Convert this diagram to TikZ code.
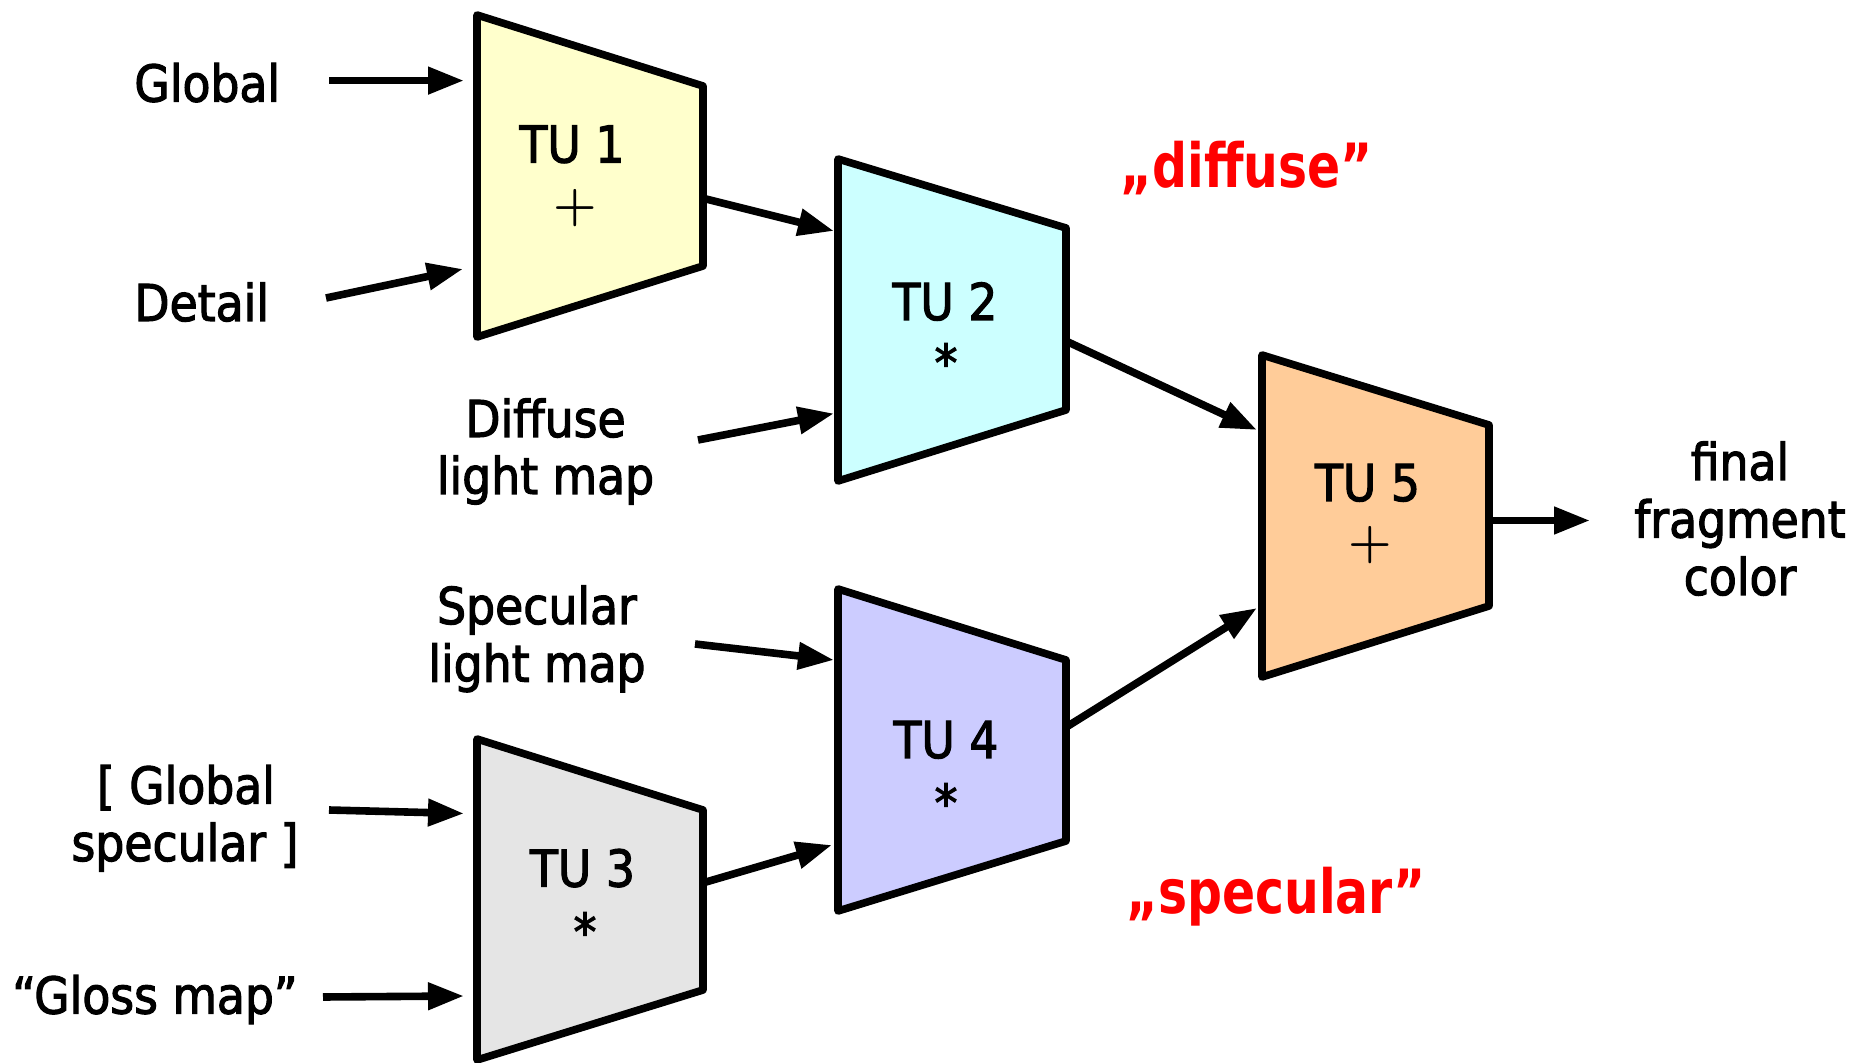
\documentclass[tikz,border=0pt]{standalone}
\usepackage{fontspec}
\setmainfont{DejaVu Sans Condensed}[FakeBold=2.2]
\newfontfamily\redfont{DejaVu Sans Condensed Bold}[FakeStretch=0.89]
\usetikzlibrary{arrows.meta}
\definecolor{tuA}{HTML}{FFFFCC}
\definecolor{tuB}{HTML}{CCFFFF}
\definecolor{tuC}{HTML}{E5E5E5}
\definecolor{tuD}{HTML}{CCCCFF}
\definecolor{tuE}{HTML}{FFCC99}
\definecolor{hlred}{HTML}{FF0000}
\begin{document}
\begin{tikzpicture}[x=0.5pt,y=-0.5pt,
  unit/.style={draw=black,line width=3.8pt,line join=round},
  conn/.style={line width=3.8pt,-{Triangle[length=18pt,width=13pt]}},
  txt/.style={font=\fontsize{25.4pt}{29pt}\selectfont,inner sep=0pt,anchor=base},
  txtw/.style={txt,anchor=base west},
  sym/.style={font=\fontsize{25.4pt}{29pt}\selectfont\boldmath,inner sep=0pt},
  quote/.style={font=\fontsize{30.5pt}{34pt}\selectfont\redfont,text=hlred,inner sep=0pt,anchor=base}]
\useasboundingbox (0,0) rectangle (1854,1063);

% texture units
\draw[unit,fill=tuA] (477,15) -- (703,86) -- (703,266) -- (477,337) -- cycle;
\draw[unit,fill=tuB] (838,159) -- (1066,228) -- (1066,410) -- (838,481) -- cycle;
\draw[unit,fill=tuC] (477,739) -- (703,810) -- (703,990) -- (477,1060) -- cycle;
\draw[unit,fill=tuD] (838,589) -- (1066,660) -- (1066,841) -- (838,911) -- cycle;
\draw[unit,fill=tuE] (1262,355) -- (1489,425) -- (1489,606) -- (1262,677) -- cycle;

\node[txt] (tu1) at (572,162.5) {TU 1};
\node[sym] (op1) at (575,208) {$+$};
\node[txt] (tu2) at (945,320) {TU 2};
\node[txt] (op2) at (946,381) {*};
\node[txt] (tu3) at (582.5,886.6) {TU 3};
\node[txt] (op3) at (585,950) {*};
\node[txt] (tu4) at (946,758) {TU 4};
\node[txt] (op4) at (946,821) {*};
\node[txt] (tu5) at (1367.5,501) {TU 5};
\node[sym] (op5) at (1370,545) {$+$};

% input labels
\node[txtw] (glob) at (134,101.6) {Global};
\node[txtw] (det) at (134,321) {Detail};
\node[txt] (dif1) at (545.5,437) {Diffuse};
\node[txt] (dif2) at (545.5,494) {light map};
\node[txt] (spe1) at (537,624) {Specular};
\node[txt] (spe2) at (537,681.7) {light map};
\node[txt] (gs1) at (186,803.6) {[ Global};
\node[txt] (gs2) at (185,861) {specular ]};
\node[txt] (glo) at (155,1013.6) {“Gloss map”};
\node[txt] (fin1) at (1740,480) {final};
\node[txt] (fin2) at (1740,537.5) {fragment};
\node[txt] (fin3) at (1740,595) {color};
\node[quote] (qd) at (1246.5,188) {„diffuse”};
\node[quote] (qs) at (1276,913.6) {„specular”};

% connector end points
\coordinate (g1) at (329,80.6);   \coordinate (g1t) at (464,80.6);
\coordinate (d1) at (326,298);    \coordinate (d1t) at (463,269);
\coordinate (a12) at (706,199);   \coordinate (a12t) at (834,231);
\coordinate (dl) at (698,440);    \coordinate (dlt) at (834,413.5);
\coordinate (a25) at (1068,342);  \coordinate (a25t) at (1257,430);
\coordinate (sl) at (695,644);    \coordinate (slt) at (834,660);
\coordinate (gs) at (329,810);    \coordinate (gst) at (464,813.5);
\coordinate (gm) at (323,997);    \coordinate (gmt) at (464,996);
\coordinate (a34) at (706,882);   \coordinate (a34t) at (832,845);
\coordinate (a45) at (1068,726);  \coordinate (a45t) at (1257,608);
\coordinate (a5f) at (1492,520.5); \coordinate (a5ft) at (1590,520.5);

\draw[conn] (g1) -- (g1t);
\draw[conn] (d1) -- (d1t);
\draw[conn] (a12) -- (a12t);
\draw[conn] (dl) -- (dlt);
\draw[conn] (a25) -- (a25t);
\draw[conn] (sl) -- (slt);
\draw[conn] (gs) -- (gst);
\draw[conn] (gm) -- (gmt);
\draw[conn] (a34) -- (a34t);
\draw[conn] (a45) -- (a45t);
\draw[conn] (a5f) -- (a5ft);
\end{tikzpicture}
\end{document}
